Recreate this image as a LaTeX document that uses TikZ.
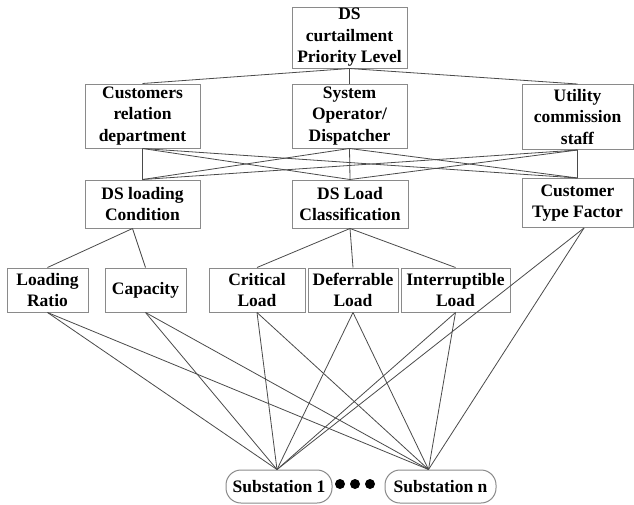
\documentclass[tikz,border=0pt]{standalone}
\usepackage{fontspec}
\setmainfont{Liberation Serif}
\usetikzlibrary{calc}
\definecolor{boxline}{HTML}{8A8A8A}
\definecolor{wire}{HTML}{4A4A4A}
\tikzset{
  hbox/.style={draw=boxline, line width=1pt, align=center, inner sep=1pt,
    font=\fontsize{17.5}{21.5}\selectfont\bfseries},
  subbox/.style={hbox, rounded corners=15pt, minimum height=33pt},
  link/.style={draw=wire, line width=0.8pt},
  dotmark/.style={circle, fill=black, inner sep=0pt, minimum size=10pt}
}
\begin{document}
\begin{tikzpicture}[x=1pt,y=-1pt]
  \useasboundingbox (0,0) rectangle (634,504);
  % top and second level
  \node[hbox, minimum width=115pt, minimum height=61pt] (prio) at (349.5,37.5) {DS\\curtailment\\Priority Level};
  \node[hbox, minimum width=115pt, minimum height=64pt] (cust) at (142.5,116) {Customers\\relation\\department};
  \node[hbox, minimum width=115pt, minimum height=64pt] (sysop) at (349.5,116) {System\\Operator/\\Dispatcher};
  \node[hbox, minimum width=111pt, minimum height=65pt] (util) at (577.5,117) {Utility\\commission\\staff};
  % criteria
  \node[hbox, minimum width=115pt, minimum height=48pt] (dsl) at (142.5,204) {DS loading\\Condition};
  \node[hbox, minimum width=116pt, minimum height=48pt] (dslc) at (350,204) {DS Load\\Classification};
  \node[hbox, minimum width=111pt, minimum height=49pt] (ctf) at (577.5,203) {Customer\\Type Factor};
  % sub-criteria
  \node[hbox, minimum width=81pt, minimum height=44pt] (lr) at (47.5,290) {Loading\\Ratio};
  \node[hbox, minimum width=81pt, minimum height=44pt] (cap) at (145.5,290) {Capacity};
  \node[hbox, minimum width=96pt, minimum height=44pt] (crit) at (257,290) {Critical\\Load};
  \node[hbox, minimum width=90pt, minimum height=44pt] (def) at (353,290) {Deferrable\\Load};
  \node[hbox, minimum width=109pt, minimum height=44pt] (intr) at (455.5,290) {Interruptible\\Load};
  % alternatives
  \node[subbox, minimum width=106pt] (sub1) at (279,486.5) {Substation 1};
  \node[subbox, minimum width=111pt] (subn) at (440.5,486.5) {Substation n};
  \node[dotmark] (d1) at (340,484) {};
  \node[dotmark] (d2) at (355,484) {};
  \node[dotmark] (d3) at (370,484) {};

  \foreach \t in {cust,sysop,util} \draw[link] (prio.south) -- (\t.north);
  \foreach \s in {cust,sysop,util}
    \foreach \t in {dsl,dslc,ctf} \draw[link] (\s.south) -- (\t.north);
  \coordinate (dslout) at ($(dsl.south)+(-10,0)$);
  \draw[link] (dslout) -- (lr.north);
  \draw[link] (dslout) -- (cap.north);
  \foreach \t in {crit,def,intr} \draw[link] (dslc.south) -- (\t.north);
  \coordinate (ctfout) at ($(ctf.south)+(6.5,0)$);
  \coordinate (s1in) at ($(sub1.north)+(-2,0)$);
  \coordinate (snin) at ($(subn.north)+(-12,0)$);
  \foreach \s in {lr,cap,crit,def,intr} {
    \draw[link] (\s.south) -- (s1in);
    \draw[link] (\s.south) -- (snin);
  }
  \draw[link] (ctfout) -- (s1in);
  \draw[link] (ctfout) -- (snin);
\end{tikzpicture}
\end{document}
